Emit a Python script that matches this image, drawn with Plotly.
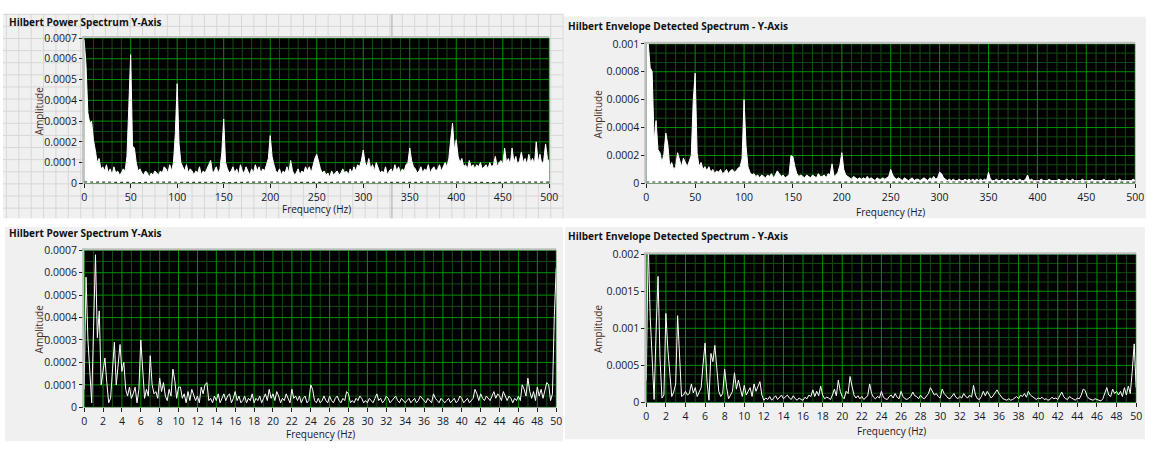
import numpy as np
import plotly.graph_objects as go

# ---------------------------------------------------------------------------
# Spectrum amplitudes, stored in units of 1e-5
# ---------------------------------------------------------------------------
AMP_UNIT = 1e-5

# Hilbert power spectrum, 0-500 Hz, 2 Hz bins
tl_step_hz = 2.0
tl_amp = [
    69, 57, 34, 29, 30, 21, 16, 10, 12, 7,
    8, 6, 9, 5, 7, 4, 8, 5, 6, 4,
    5, 7, 6, 13, 37, 62, 18, 17, 10, 6,
    7, 5, 4, 6, 5, 3, 5, 4, 6, 5,
    4, 6, 5, 8, 7, 5, 9, 6, 10, 24,
    48, 19, 10, 8, 6, 9, 5, 7, 6, 4,
    6, 5, 8, 4, 6, 5, 7, 9, 11, 5,
    6, 8, 5, 7, 15, 31, 10, 7, 5, 6,
    8, 5, 7, 4, 9, 6, 5, 8, 6, 4,
    7, 5, 9, 6, 8, 5, 7, 6, 9, 12,
    23, 13, 9, 6, 5, 7, 4, 6, 5, 8,
    5, 11, 6, 4, 5, 7, 4, 6, 5, 8,
    6, 8, 5, 9, 12, 14, 10, 7, 5, 6,
    4, 5, 3, 6, 4, 5, 6, 4, 5, 7,
    5, 6, 4, 7, 5, 8, 6, 9, 8, 11,
    16, 10, 8, 12, 7, 9, 6, 10, 7, 5,
    6, 5, 8, 4, 6, 7, 5, 9, 6, 8,
    5, 7, 6, 9, 10, 17, 11, 8, 7, 5,
    6, 8, 5, 7, 6, 9, 5, 7, 8, 6,
    7, 9, 6, 8, 10, 8, 12, 21, 29, 16,
    21, 13, 10, 12, 8, 9, 7, 11, 8, 9,
    7, 9, 8, 10, 7, 8, 9, 7, 10, 8,
    9, 13, 8, 10, 11, 9, 17, 10, 12, 9,
    17, 10, 13, 9, 11, 15, 10, 12, 9, 14,
    10, 12, 9, 20, 10, 14, 9, 11, 19, 12,
    10,
]

# Hilbert envelope detected spectrum, 0-500 Hz, 2 Hz bins
tr_step_hz = 2.0
tr_amp = [
    102, 100, 83, 80, 30, 45, 24, 22, 15, 21,
    36, 28, 12, 15, 10, 12, 22, 16, 12, 18,
    15, 12, 16, 20, 59, 79, 22, 12, 15, 10,
    12, 9, 12, 8, 10, 7, 9, 8, 10, 7,
    8, 10, 7, 9, 10, 8, 9, 11, 12, 18,
    60, 27, 12, 8, 6, 7, 5, 6, 4, 6,
    5, 4, 6, 5, 7, 4, 6, 9, 7, 5,
    6, 4, 5, 6, 20, 19, 12, 7, 5, 6,
    5, 4, 6, 5, 4, 6, 5, 4, 7, 5,
    5, 6, 4, 7, 6, 14, 5, 6, 8, 13,
    22, 10, 6, 5, 4, 3, 5, 4, 3, 4,
    3, 4, 3, 5, 3, 4, 3, 2, 4, 3,
    3, 4, 3, 4, 5, 10, 6, 4, 3, 4,
    3, 2, 4, 3, 2, 3, 4, 2, 3, 3,
    2, 3, 4, 3, 2, 4, 3, 5, 3, 4,
    8, 7, 4, 3, 2, 3, 2, 3, 2, 2,
    3, 2, 2, 3, 2, 3, 2, 3, 2, 3,
    2, 3, 2, 3, 2, 8, 3, 2, 2, 3,
    2, 2, 3, 2, 2, 3, 2, 2, 3, 2,
    2, 3, 2, 2, 3, 6, 2, 3, 2, 2,
    2, 2, 3, 2, 2, 2, 3, 2, 2, 2,
    2, 3, 2, 2, 2, 3, 2, 2, 3, 2,
    2, 2, 2, 3, 2, 2, 2, 2, 3, 2,
    2, 2, 2, 2, 3, 2, 2, 2, 2, 2,
    2, 2, 3, 2, 2, 2, 2, 2, 2, 3,
    2,
]

# Hilbert power spectrum, 0-50 Hz, 0.2 Hz bins
bl_step_hz = 0.2
bl_amp = [
    8, 58, 30, 13, 2, 36, 68, 31, 43, 10,
    15, 22, 11, 2, 4, 15, 29, 10, 18, 28,
    16, 20, 8, 5, 9, 4, 6, 9, 2, 8,
    30, 15, 4, 8, 5, 23, 10, 6, 7, 4,
    13, 7, 11, 5, 3, 8, 5, 17, 12, 4,
    9, 9, 4, 6, 2, 7, 3, 8, 5, 3,
    5, 2, 9, 6, 10, 11, 3, 4, 2, 5,
    3, 6, 2, 4, 6, 3, 5, 6, 2, 4,
    7, 3, 5, 2, 3, 5, 2, 4, 3, 6,
    2, 4, 3, 5, 2, 4, 6, 3, 8, 4,
    6, 3, 7, 5, 2, 4, 3, 6, 4, 2,
    8, 4, 5, 3, 5, 2, 4, 5, 2, 3,
    10, 8, 3, 2, 4, 2, 3, 5, 3, 2,
    5, 3, 2, 4, 5, 3, 2, 4, 3, 7,
    6, 2, 3, 2, 4, 3, 5, 4, 2, 3,
    2, 4, 3, 2, 4, 6, 3, 4, 2, 3,
    5, 4, 2, 3, 4, 5, 3, 2, 4, 3,
    2, 3, 4, 2, 3, 4, 2, 3, 5, 4,
    3, 2, 4, 3, 2, 6, 4, 3, 2, 4,
    3, 2, 3, 4, 2, 3, 4, 2, 3, 5,
    4, 2, 3, 4, 2, 3, 4, 8, 6, 3,
    6, 4, 3, 5, 4, 3, 5, 7, 4, 6,
    5, 3, 7, 5, 3, 5, 4, 2, 4, 3,
    5, 3, 10, 8, 5, 13, 7, 4, 7, 3,
    9, 5, 8, 4, 7, 11, 10, 3, 6, 41,
    62,
]

# Hilbert envelope detected spectrum, 0-50 Hz, 0.2 Hz bins
br_step_hz = 0.2
br_amp = [
    30, 215, 116, 58, 4, 95, 170, 60, 6, 10,
    120, 72, 40, 8, 14, 25, 117, 50, 8, 10,
    15, 10, 12, 25, 13, 20, 8, 14, 20, 52,
    80, 28, 3, 66, 55, 77, 40, 15, 8, 12,
    45, 20, 5, 10, 15, 40, 18, 30, 20, 8,
    23, 10, 15, 20, 8, 25, 15, 22, 28, 10,
    3, 6, 4, 8, 3, 6, 9, 4, 7, 10,
    5, 8, 10, 6, 4, 9, 5, 3, 6, 4,
    3, 7, 5, 10, 8, 17, 8, 15, 9, 22,
    10, 5, 7, 6, 4, 10, 18, 9, 30, 15,
    8, 5, 15, 12, 35, 22, 10, 6, 9, 5,
    8, 4, 6, 9, 25, 12, 7, 5, 8, 6,
    15, 7, 5, 4, 8, 10, 6, 12, 7, 5,
    15, 8, 5, 4, 6, 8, 14, 9, 8, 5,
    10, 6, 5, 8, 12, 20, 15, 10, 12, 8,
    6, 18, 12, 9, 6, 5, 9, 12, 7, 5,
    8, 6, 12, 8, 6, 10, 7, 23, 10, 5,
    4, 8, 15, 9, 15, 10, 6, 9, 14, 17,
    12, 8, 5, 4, 3, 5, 3, 4, 6, 8,
    5, 10, 8, 12, 7, 15, 10, 8, 5, 4,
    6, 5, 7, 4, 5, 3, 4, 7, 5, 6,
    4, 9, 14, 8, 5, 4, 8, 6, 4, 3,
    6, 5, 10, 18, 16, 8, 5, 4, 3, 5,
    4, 3, 2, 5, 12, 20, 10, 8, 18, 12,
    15, 10, 15, 8, 20, 10, 22, 12, 42, 79,
    20,
]

# Secondary (dark) plot lying along the baseline of the wide-band graphs, 20 Hz bins
dark_step_hz = 20.0
tl_dark = [0.7, 0.5, 0.6, 0.4, 0.6, 0.5, 0.7, 0.5, 0.4, 0.6, 0.5, 0.6, 0.4,
           0.5, 0.6, 0.5, 0.4, 0.6, 0.5, 0.7, 0.5, 0.6, 0.4, 0.6, 0.5, 0.6]
tr_dark = [1.0, 0.9, 1.1, 0.8, 1.0, 0.9, 1.0, 0.8, 0.9, 1.0, 0.9, 0.8, 1.0,
           0.9, 0.8, 1.0, 0.9, 0.8, 0.9, 1.0, 0.8, 0.9, 1.0, 0.8, 0.9, 0.9]

# Tick values
wide_freq_ticks = [0, 50, 100, 150, 200, 250, 300, 350, 400, 450, 500]
narrow_freq_ticks = [0, 2, 4, 6, 8, 10, 12, 14, 16, 18, 20, 22, 24, 26, 28,
                     30, 32, 34, 36, 38, 40, 42, 44, 46, 48, 50]
power_amp_ticks = [0, 0.0001, 0.0002, 0.0003, 0.0004, 0.0005, 0.0006, 0.0007]
env_amp_ticks_wide = [0, 0.0002, 0.0004, 0.0006, 0.0008, 0.001]
env_amp_ticks_narrow = [0, 0.0005, 0.001, 0.0015, 0.002]

power_title = "Hilbert Power Spectrum Y-Axis"
env_title = "Hilbert Envelope Detected Spectrum - Y-Axis"
amp_label = "Amplitude"
freq_label = "Frequency (Hz)"

# ---------------------------------------------------------------------------
# Styling / layout helpers (pixel coordinates on a 1160 x 455 page)
# ---------------------------------------------------------------------------
W, H = 1160, 455
FONT = "Open Sans"
PANEL_BG = "#f0f0f0"
MAJOR_GRID = "#009200"
MINOR_GRID = "#104e10"
TICK_COL = "#1e1e1e"
LABEL_COL = "#16182c"
AMP_COL = "#4a2e24"
TITLE_COL = "#111111"


def fx(px):
    return px / W


def fy(py):
    return 1 - py / H


def fmt(v):
    return f"{v:g}"


def minor_positions(ticks, divisions):
    # evenly split every major interval into `divisions` parts
    out = []
    for a, b in zip(ticks[:-1], ticks[1:]):
        for k in range(1, divisions):
            out.append(a + (b - a) * k / divisions)
    return out


def axis(domain, anchor, ticks):
    return dict(
        domain=domain, anchor=anchor,
        range=[ticks[0], ticks[-1]],
        tickmode="array", tickvals=ticks, ticktext=[fmt(t) for t in ticks],
        showgrid=False,
        zeroline=False, showline=False,
        ticks="outside", ticklen=4, tickwidth=1, tickcolor=TICK_COL,
        tickfont=dict(family=FONT, size=10.5, color=LABEL_COL),
        fixedrange=True,
    )


# plot-area boxes: (left, top, right, bottom) in pixels
tl_box = (82, 32, 552, 182)
tr_box = (650, 38, 1144, 182)
bl_box = (82, 251, 559, 413)
br_box = (650, 255, 1145, 408)

fig = go.Figure()


def grid_trace(xa, ya, xvals, yvals, xticks, yticks, color):
    # one polyline per gridline, separated by gaps
    gx, gy = [], []
    for v in xvals:
        gx += [v, v, None]
        gy += [yticks[0], yticks[-1], None]
    for v in yvals:
        gx += [xticks[0], xticks[-1], None]
        gy += [v, v, None]
    fig.add_trace(go.Scatter(x=gx, y=gy, xaxis=xa, yaxis=ya, mode="lines",
                             line=dict(color=color, width=1), hoverinfo="skip",
                             connectgaps=False))


def plot_grid(xa, ya, xticks, xdiv, yticks, ydiv):
    grid_trace(xa, ya, minor_positions(xticks, xdiv), minor_positions(yticks, ydiv),
               xticks, yticks, MINOR_GRID)
    grid_trace(xa, ya, xticks, yticks, xticks, yticks, MAJOR_GRID)


plot_grid("x", "y", wide_freq_ticks, 5, power_amp_ticks, 2)
plot_grid("x2", "y2", wide_freq_ticks, 5, env_amp_ticks_wide, 3)
plot_grid("x3", "y3", narrow_freq_ticks, 2, power_amp_ticks, 2)
plot_grid("x4", "y4", narrow_freq_ticks, 2, env_amp_ticks_narrow, 4)


def freq_of(values, step):
    return np.arange(len(values)) * step


def amps(values):
    return np.asarray(values, dtype=float) * AMP_UNIT


# Wide-band graphs: dense white spectra
fig.add_trace(go.Scatter(x=freq_of(tl_amp, tl_step_hz), y=amps(tl_amp), xaxis="x", yaxis="y",
                         mode="lines", line=dict(color="white", width=1),
                         fill="tozeroy", fillcolor="white", hoverinfo="skip"))
fig.add_trace(go.Scatter(x=freq_of(tl_dark, dark_step_hz), y=amps(tl_dark), xaxis="x", yaxis="y",
                         mode="lines", line=dict(color="#3a3a3a", width=1.2, dash="dot"),
                         hoverinfo="skip"))
fig.add_trace(go.Scatter(x=freq_of(tr_amp, tr_step_hz), y=amps(tr_amp), xaxis="x2", yaxis="y2",
                         mode="lines", line=dict(color="white", width=1),
                         fill="tozeroy", fillcolor="white", hoverinfo="skip"))
fig.add_trace(go.Scatter(x=freq_of(tr_dark, dark_step_hz), y=amps(tr_dark), xaxis="x2", yaxis="y2",
                         mode="lines", line=dict(color="#3a3a3a", width=1.2, dash="dot"),
                         hoverinfo="skip"))
# Low-frequency zooms: plain white lines
fig.add_trace(go.Scatter(x=freq_of(bl_amp, bl_step_hz), y=amps(bl_amp), xaxis="x3", yaxis="y3",
                         mode="lines", line=dict(color="white", width=1), hoverinfo="skip"))
fig.add_trace(go.Scatter(x=freq_of(br_amp, br_step_hz), y=amps(br_amp), xaxis="x4", yaxis="y4",
                         mode="lines", line=dict(color="white", width=1), hoverinfo="skip"))

shapes = []


def rect(x0, y0, x1, y1, color, layer="below"):
    shapes.append(dict(type="rect", xref="paper", yref="paper",
                       x0=fx(x0), x1=fx(x1), y0=fy(y1), y1=fy(y0),
                       fillcolor=color, line=dict(width=0), layer=layer))


def hline(x0, x1, y, color, width=1, layer="below"):
    shapes.append(dict(type="line", xref="paper", yref="paper",
                       x0=fx(x0), x1=fx(x1), y0=fy(y), y1=fy(y),
                       line=dict(color=color, width=width), layer=layer))


def vline(x, y0, y1, color, width=1, layer="below"):
    shapes.append(dict(type="line", xref="paper", yref="paper",
                       x0=fx(x), x1=fx(x), y0=fy(y0), y1=fy(y1),
                       line=dict(color=color, width=width), layer=layer))


# panel backgrounds
rect(0, 7.5, 566, 218, PANEL_BG)
rect(567, 10, 1155, 218, PANEL_BG)
rect(2, 227, 566, 448, PANEL_BG)
rect(568, 227, 1154, 446, PANEL_BG)

# editor grid behind the first panel
gx = 566.0
while gx >= 0:
    vline(gx, 7.5, 218, "#d7d7d7")
    gx -= 12.5
gy = 7.5
while gy <= 218:
    hline(0, 566, gy, "#d7d7d7")
    gy += 12.5
vline(393, 7.5, 218, "#a9a9a9")

# black plot areas
for (l, t, r, b) in (tl_box, tr_box, bl_box, br_box):
    rect(l, t, r, b, "#000000")

# raised frame on the top and left of each plot area
for (l, t, r, b) in (tl_box, tr_box, bl_box, br_box):
    hline(l - 2, r, t - 1, "#bfbfbf", width=2, layer="above")
    vline(l - 1, t - 2, b, "#bfbfbf", width=2, layer="above")

annotations = []


def text(x, y, s, size=10, color=LABEL_COL, bold=False, angle=0, xanchor="center"):
    annotations.append(dict(
        xref="paper", yref="paper", x=fx(x), y=fy(y), text=f"<b>{s}</b>" if bold else s,
        showarrow=False, xanchor=xanchor, yanchor="middle", textangle=angle,
        font=dict(family=FONT, size=size, color=color)))


# panel titles
text(4, 15.5, power_title, size=10, color=TITLE_COL, bold=True, xanchor="left")
text(569, 19.5, env_title, size=10, color=TITLE_COL, bold=True, xanchor="left")
text(4, 233.5, power_title, size=10, color=TITLE_COL, bold=True, xanchor="left")
text(569, 236.5, env_title, size=10, color=TITLE_COL, bold=True, xanchor="left")

# axis names
text(36, 107, amp_label, color=AMP_COL, angle=-90)
text(601, 110, amp_label, color=AMP_COL, angle=-90)
text(36, 332, amp_label, color=AMP_COL, angle=-90)
text(602, 331.5, amp_label, color=AMP_COL, angle=-90)
text(317, 208.5, freq_label)
text(897, 211, freq_label)
text(320.5, 441, freq_label)
text(897.5, 437.5, freq_label)

fig.update_layout(
    width=W, height=H, autosize=False,
    margin=dict(l=0, r=0, t=0, b=0, pad=0),
    paper_bgcolor="white", plot_bgcolor="rgba(0,0,0,0)",
    showlegend=False, hovermode=False,
    font=dict(family=FONT, size=10, color=LABEL_COL),
    xaxis=axis([fx(tl_box[0]), fx(tl_box[2])], "y", wide_freq_ticks),
    yaxis=axis([fy(tl_box[3]), fy(tl_box[1])], "x", power_amp_ticks),
    xaxis2=axis([fx(tr_box[0]), fx(tr_box[2])], "y2", wide_freq_ticks),
    yaxis2=axis([fy(tr_box[3]), fy(tr_box[1])], "x2", env_amp_ticks_wide),
    xaxis3=axis([fx(bl_box[0]), fx(bl_box[2])], "y3", narrow_freq_ticks),
    yaxis3=axis([fy(bl_box[3]), fy(bl_box[1])], "x3", power_amp_ticks),
    xaxis4=axis([fx(br_box[0]), fx(br_box[2])], "y4", narrow_freq_ticks),
    yaxis4=axis([fy(br_box[3]), fy(br_box[1])], "x4", env_amp_ticks_narrow),
    shapes=shapes,
    annotations=annotations,
)

fig.write_html("out.html", config=dict(displayModeBar=False, staticPlot=True))
